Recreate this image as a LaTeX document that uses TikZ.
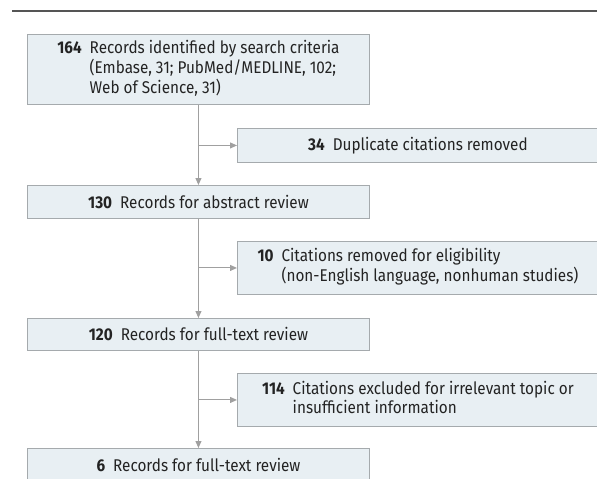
\documentclass[tikz,border=0pt]{standalone}
\usepackage{fontspec}
\setmainfont[FakeStretch=0.9]{Fira Sans}
\usetikzlibrary{arrows.meta,positioning}
\definecolor{boxfill}{RGB}{232,239,243}
\definecolor{boxline}{RGB}{165,170,173}
\definecolor{arrline}{RGB}{160,160,160}
\definecolor{rulecol}{RGB}{85,85,85}
\definecolor{txt}{RGB}{35,35,35}
\newcommand{\numgap}{\hspace{8pt}}
\begin{document}
\begin{tikzpicture}[x=1pt,y=-1pt,
  flowbox/.style={draw=boxline,fill=boxfill,line width=0.9pt,inner sep=0pt,
    text=txt,font=\fontsize{17}{18.5}\selectfont,align=center},
  arr/.style={draw=arrline,line width=1pt,-{Triangle[width=6pt,length=7pt]}}
]
\useasboundingbox (0,0) rectangle (597,479);
\draw[rulecol,line width=1.4pt] (12,11) -- (597,11);
% main column
\node[flowbox,minimum width=342,minimum height=70,anchor=north west] (b1) at (27,34)
  {\begin{tabular}{@{}l@{\numgap}l@{}}\textbf{164} & Records identified by search criteria\\
   & (Embase, 31; PubMed/MEDLINE, 102;\\ & Web of Science, 31)\end{tabular}};
\node[flowbox,minimum width=342,minimum height=33,anchor=north west] (b2) at (27,185)
  {\textbf{130}\numgap Records for abstract review};
\node[flowbox,minimum width=342,minimum height=32,anchor=north west] (b3) at (27,318)
  {\textbf{120}\numgap Records for full-text review};
\node[flowbox,minimum width=342,minimum height=34,anchor=north west] (b4) at (27,448)
  {\textbf{6}\numgap Records for full-text review};
% side boxes
\node[flowbox,minimum width=361,minimum height=34,anchor=north west] (s1) at (237,128)
  {\textbf{34}\numgap Duplicate citations removed};
\node[flowbox,minimum width=361,minimum height=53,anchor=north west] (s2) at (237,241)
  {\begin{tabular}{@{}l@{\numgap}l@{}}\textbf{10} & Citations removed for eligibility\\
   & (non-English language, nonhuman studies)\end{tabular}};
\node[flowbox,minimum width=361,minimum height=53,anchor=north west] (s3) at (237,373)
  {\begin{tabular}{@{}l@{\numgap}l@{}}\textbf{114} & Citations excluded for irrelevant topic or\\
   & insufficient information\end{tabular}};
% connectors
\draw[arr] (b1.south) -- (b2.north);
\draw[arr] (b2.south) -- (b3.north);
\draw[arr] (b3.south) -- (b4.north);
\draw[arr] (b1.south |- s1.west) -- (s1.west);
\draw[arr] (b2.south |- s2.west) -- (s2.west);
\draw[arr] (b3.south |- s3.west) -- (s3.west);
\end{tikzpicture}
\end{document}
